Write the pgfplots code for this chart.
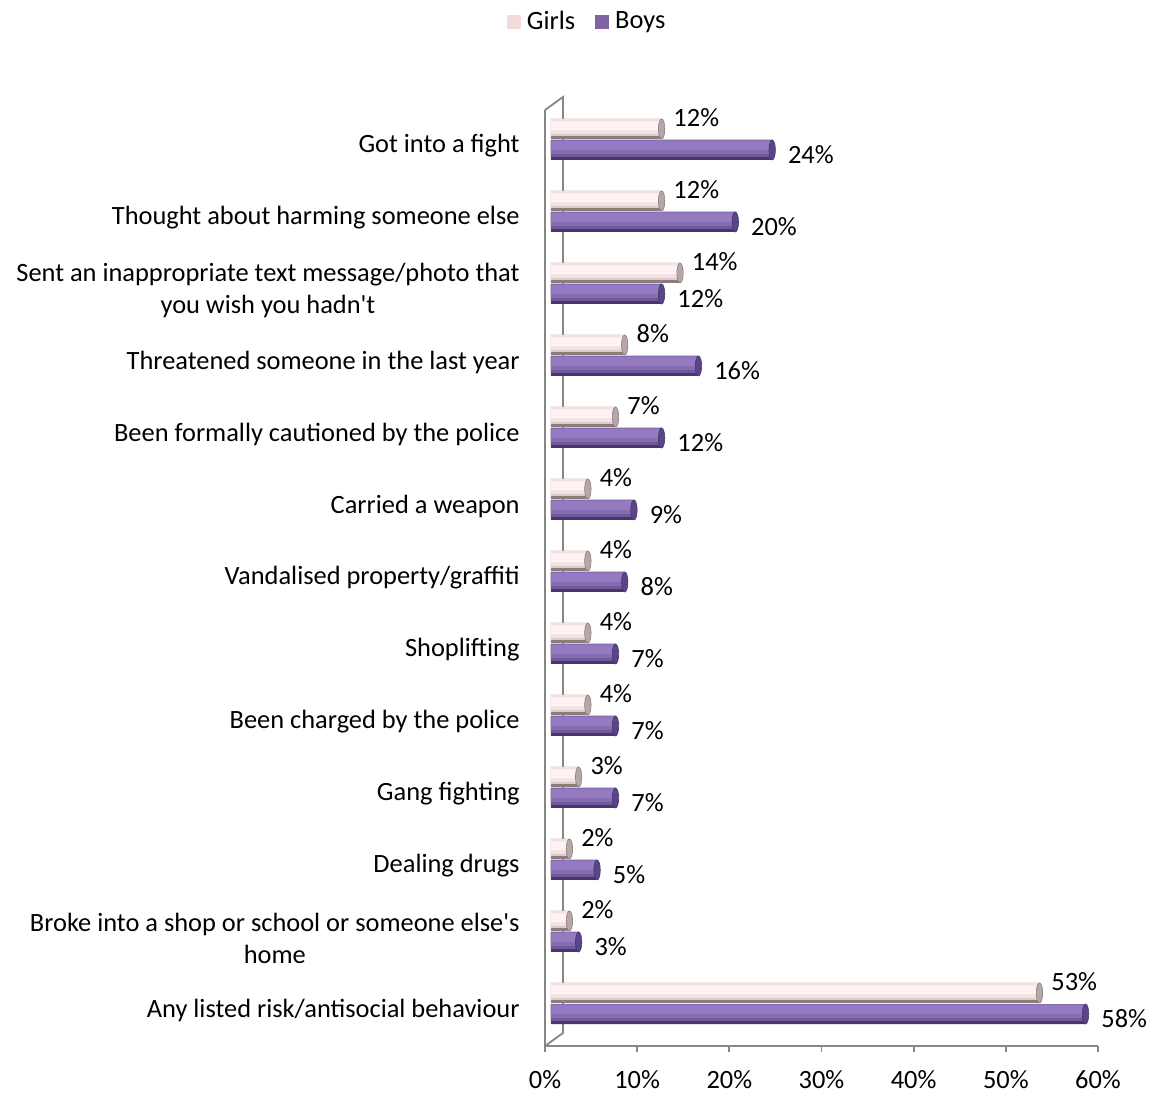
\documentclass[border=0pt]{standalone}
\usepackage{pgfplots}
\usepackage{pgfplotstable}
\pgfplotsset{compat=1.18}
\usepackage{fontspec}
\setmainfont{Carlito}[Ligatures=TeXOff]
\definecolor{axgray}{RGB}{134,134,134}
\definecolor{girlsL}{RGB}{242,220,219}
\definecolor{boysL}{RGB}{128,100,162}
\definecolor{g1}{RGB}{140,124,124}
\definecolor{g2}{RGB}{222,202,202}
\definecolor{g3}{RGB}{243,224,224}
\definecolor{g4}{RGB}{253,243,243}
\definecolor{gcap}{RGB}{182,166,166}
\definecolor{b1}{RGB}{72,55,105}
\definecolor{b2}{RGB}{112,88,156}
\definecolor{b3}{RGB}{134,108,178}
\definecolor{b4}{RGB}{148,122,192}
\definecolor{bcap}{RGB}{92,68,138}
\pgfplotstableread{
v y
53 0
2 1
2 2
3 3
4 4
4 5
4 6
4 7
7 8
8 9
14 10
12 11
12 12
}\girls
\pgfplotstableread{
v y
58 0
3 1
5 2
7 3
7 4
7 5
8 6
9 7
12 8
16 9
12 10
20 11
24 12
}\boys
\begin{document}
\fontsize{13.2}{16}\selectfont
\begin{tikzpicture}
\path[use as bounding box] (-272.5pt,-23.5pt) rectangle (303.5pt,523pt);
\begin{axis}[
  at={(0,0)}, anchor=south west,
  scale only axis,
  width=276.5pt, height=468pt,
  xmin=0, xmax=60, ymin=-0.5, ymax=12.5,
  xbar,
  axis x line*=bottom,
  axis y line*=left,
  axis line style={axgray, line width=0.9pt},
  xtick={0,10,...,60},
  xticklabel={\pgfmathprintnumber{\tick}\%},
  /pgf/number format/assume math mode=true,
  xtick style={axgray, line width=0.9pt},
  tick align=outside,
  major tick length=3pt,
  ytick={0,...,12},
  minor ytick={-0.5,0.5,...,12.5},
  ytick style={draw=none},
  minor tick style={axgray, line width=0.9pt},
  minor tick length=4pt,
  yticklabels={
    {Any listed risk/antisocial behaviour},
    {Broke into a shop or school or someone else's\\home},
    {Dealing drugs},
    {Gang fighting},
    {Been charged by the police},
    {Shoplifting},
    {Vandalised property/graffiti},
    {Carried a weapon},
    {Been formally cautioned by the police},
    {Threatened someone in the last year},
    {Sent an inappropriate text message/photo that\\you wish you hadn't},
    {Thought about harming someone else},
    {Got into a fight}},
  yticklabel style={align=center, inner sep=0pt, xshift=-9.5pt, font=\fontsize{13.2}{16}\selectfont},
  xticklabel style={inner sep=0pt, yshift=-9pt, font=\fontsize{13.2}{16}\selectfont},
  every node near coord/.append style={anchor=west, inner sep=0pt, font=\fontsize{13.2}{16}\selectfont, text=black},
  legend style={draw=none, at={(0.078,1.094)}, anchor=center, legend columns=2,
    font=\fontsize{13.2}{16}\selectfont,
    /tikz/every odd column/.append style={column sep=1pt},
    /tikz/every even column/.append style={column sep=8pt}},
  clip=false,
]
% 3D back wall lines
\draw[axgray, line width=0.9pt] (rel axis cs:0,1) -- ([shift={(9pt,6.5pt)}]rel axis cs:0,1) -- ([shift={(9pt,6.5pt)}]rel axis cs:0,0) -- (rel axis cs:0,0);
% Girls (centre +8.5pt, 10pt thick), layered to imitate the cylinder shading
\addplot[forget plot, xshift=3pt, draw=none, fill=g1, bar width=10pt, bar shift=8.5pt] table[x=v,y=y] {\girls};
\addplot[forget plot, xshift=3pt, draw=none, fill=g2, bar width=8.5pt, bar shift=9.25pt] table[x=v,y=y] {\girls};
\addplot[forget plot, xshift=3pt, draw=none, fill=g3, bar width=7.5pt, bar shift=9.75pt] table[x=v,y=y] {\girls};
\addplot[xshift=3pt, draw=none, fill=g4, bar width=4.5pt, bar shift=10pt,
  nodes near coords={\pgfmathprintnumber{\pgfplotspointmeta}\%},
  every node near coord/.append style={xshift=5.75pt, yshift=4pt},
  legend image code/.code={\fill[girlsL] (0pt,-3.5pt) rectangle (7pt,3.5pt);}]
  table[x=v,y=y] {\girls};
\addplot[forget plot, only marks, xshift=3pt, yshift=8.5pt, mark=*, mark size=5pt,
  mark options={xscale=0.32, fill=gcap, draw=g1, line width=0.3pt}] table[x=v,y=y] {\girls};
% Boys (centre -2pt, 10pt thick)
\addplot[forget plot, xshift=3pt, draw=none, fill=b1, bar width=10pt, bar shift=-2pt] table[x=v,y=y] {\boys};
\addplot[forget plot, xshift=3pt, draw=none, fill=b2, bar width=8.5pt, bar shift=-1.25pt] table[x=v,y=y] {\boys};
\addplot[forget plot, xshift=3pt, draw=none, fill=b3, bar width=7pt, bar shift=-0.5pt] table[x=v,y=y] {\boys};
\addplot[xshift=3pt, draw=none, fill=b4, bar width=4.5pt, bar shift=0.25pt,
  nodes near coords={\pgfmathprintnumber{\pgfplotspointmeta}\%},
  every node near coord/.append style={xshift=7.75pt, yshift=-4.75pt},
  legend image code/.code={\fill[boysL] (0pt,-3.5pt) rectangle (7pt,3.5pt);}]
  table[x=v,y=y] {\boys};
\addplot[forget plot, only marks, xshift=3pt, yshift=-2pt, mark=*, mark size=5pt,
  mark options={xscale=0.32, fill=bcap, draw=b1, line width=0.3pt}] table[x=v,y=y] {\boys};
\legend{Girls, Boys}
\end{axis}
\end{tikzpicture}
\end{document}
